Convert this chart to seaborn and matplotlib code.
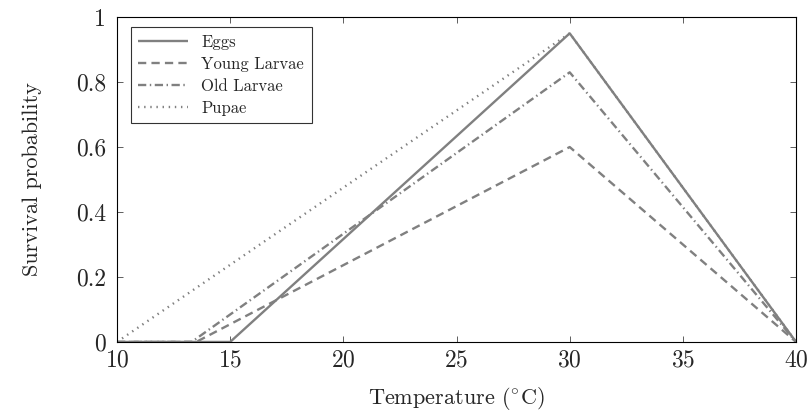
import matplotlib
matplotlib.use("Agg")
import matplotlib.pyplot as plt
import seaborn as sns
import pandas as pd

sns.set_style("ticks")
plt.rcParams['font.family'] = ['serif']
plt.rcParams['font.serif'] = ['cmr10', 'DejaVu Serif']
plt.rcParams['mathtext.fontset'] = 'cm'
plt.rcParams['axes.formatter.use_mathtext'] = True

series_names = ["Eggs", "Young Larvae", "Old Larvae", "Pupae"]
eggs_x = [10, 15, 30, 40]
eggs_y = [0, 0, 0.95, 0]
young_x = [10, 13.5, 30, 40]
young_y = [0, 0, 0.60, 0]
old_x = [10, 13.3, 30, 40]
old_y = [0, 0, 0.83, 0]
pupae_x = [10, 30, 40]
pupae_y = [0, 0.95, 0]

xs = [eggs_x, young_x, old_x, pupae_x]
ys = [eggs_y, young_y, old_y, pupae_y]
styles = [(0, ()), (0, (3.5, 2.2)), (0, (3.5, 1.5, 0.6, 1.5)), (0, (0.6, 2.0))]

fig = plt.figure(figsize=(8.09, 4.17), dpi=100)
ax = fig.add_axes([0.1446, 0.18, 0.8394, 0.779])
gray = "#808080"
for name, x, y, ls in zip(series_names, xs, ys, styles):
    df = pd.DataFrame({"x": x, "y": y})
    sns.lineplot(data=df, x="x", y="y", ax=ax, color=gray, linewidth=1.7,
                 linestyle=ls, label=name, sort=False)

ax.set_xlim(10, 40)
ax.set_ylim(0, 1)
ax.set_xticks([10, 15, 20, 25, 30, 35, 40])
ax.set_yticks([0, 0.2, 0.4, 0.6, 0.8, 1])
ax.set_yticklabels(["0", "0.2", "0.4", "0.6", "0.8", "1"])
ax.tick_params(direction="in", top=True, right=True, labelsize=17, length=4,
               width=0.6, color="#444444")
ax.tick_params(axis="x", pad=5)
ax.tick_params(axis="y", pad=8)
for s in ax.spines.values():
    s.set_linewidth(0.8)
    s.set_color("black")
ax.set_xlabel("Temperature ($^{\\circ}$C)", fontsize=16, labelpad=10)
ax.set_ylabel("Survival probability", fontsize=16, labelpad=24)
leg = ax.legend(loc="upper left", fontsize=12, frameon=True, fancybox=False,
                edgecolor="black", handlelength=3.0, borderpad=0.45,
                labelspacing=0.4, bbox_to_anchor=(0.02, 0.97), borderaxespad=0)
leg.get_frame().set_linewidth(0.8)
fig.savefig("out.png", dpi=100)
